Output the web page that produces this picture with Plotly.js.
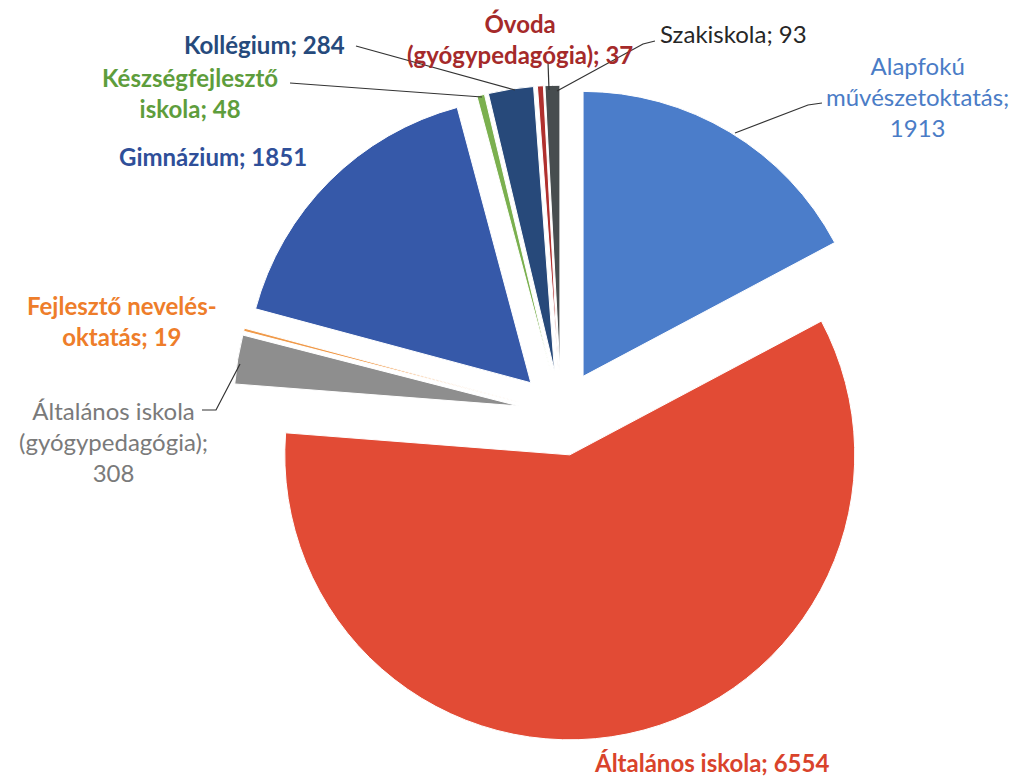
<!DOCTYPE html>
<html>
<head>
<meta charset="utf-8">
<script src="https://cdn.plot.ly/plotly-3.0.1.min.js"></script>
<style>html,body{margin:0;padding:0;background:#fff;}#chart{width:1021px;height:778px;}</style>
</head>
<body>
<div id="chart"></div>
<script>
// Data
const labels = [
  "Alapfokú művészetoktatás",
  "Általános iskola",
  "Általános iskola (gyógypedagógia)",
  "Fejlesztő nevelés-oktatás",
  "Gimnázium",
  "Készségfejlesztő iskola",
  "Kollégium",
  "Óvoda (gyógypedagógia)",
  "Szakiskola"
];
const values = [1913, 6554, 308, 19, 1851, 48, 284, 37, 93];
const sliceColors = ["#4b7dca", "#e24b35", "#8e8e8e", "#f09a4a", "#3659a9", "#7bb04f", "#27497a", "#b0302e", "#474d4f"];
const textColors  = ["#4a7cc6", "#d9432b", "#7a7a7a", "#ee7d2a", "#2f4f99", "#5e9d3c", "#264a7c", "#a52a2a", "#262626"];
// label line breaks (how the reference wraps the text)
const labelLines = [
  ["Alapfokú", "művészetoktatás;", "{v}"],
  ["Általános iskola; {v}"],
  ["Általános iskola", "(gyógypedagógia);", "{v}"],
  ["Fejlesztő nevelés-", "oktatás; {v}"],
  ["Gimnázium; {v}"],
  ["Készségfejlesztő", "iskola; {v}"],
  ["Kollégium; {v}"],
  ["Óvoda", "(gyógypedagógia); {v}"],
  ["Szakiskola; {v}"]
];
const boldLabel = [false, true, false, true, true, true, true, true, false];

// layout helpers (pixel -> paper, margins are zero)
const W = 1021, H = 778;
const px = x => x / W;
const py = y => 1 - y / H;

// label placement (pixel centres) and leader lines (pixel polylines)
const labelPos = [
  [917, 97, "center"], [711, 762, "center"], [113, 441, "center"], [122, 321, "center"],
  [213, 157, "center"], [190, 93, "center"], [264, 44, "center"], [520, 39, "center"], [658, 34, "left"]
];
const leaders = [
  [[822, 103], [808, 105], [735, 133]],
  null,
  [[202, 410], [216, 410], [240, 364]],
  null,
  null,
  [[290, 83], [482, 97]],
  [[356, 46], [515, 90]],
  [[548, 62], [549, 90]],
  [[655, 41], [643, 44], [557, 91]]
];

const annotations = labels.map((l, i) => {
  const txt = labelLines[i].map(s => s.replace("{v}", values[i])).join("<br>");
  return {
    xref: "paper", yref: "paper",
    x: px(labelPos[i][0]), y: py(labelPos[i][1]),
    xanchor: labelPos[i][2], yanchor: "middle",
    text: boldLabel[i] ? "<b>" + txt + "</b>" : txt,
    showarrow: false, align: "center",
    font: {family: "Lato, 'Open Sans', sans-serif", size: 24, color: textColors[i]}
  };
});

const shapes = leaders.filter(Boolean).map(pts => ({
  type: "path", xref: "paper", yref: "paper",
  path: pts.map((p, k) => (k ? "L" : "M") + px(p[0]) + "," + py(p[1])).join(" "),
  line: {color: "#333", width: 1.2}
}));

const trace = {
  type: "pie",
  labels: labels,
  values: values,
  sort: false,
  direction: "clockwise",
  rotation: 0,
  pull: [0.15, 0.15, 0.15, 0.15, 0.15, 0.15, 0.15, 0.15, 0.15],
  marker: {colors: sliceColors, line: {color: "#ffffff", width: 1}},
  textinfo: "none",
  hoverinfo: "label+value",
  domain: {x: [0.2, 0.899], y: [0.0479, 0.8904]}
};

const layout = {
  width: W, height: H,
  margin: {l: 0, r: 0, t: 0, b: 0},
  showlegend: false,
  paper_bgcolor: "#ffffff",
  annotations: annotations,
  shapes: shapes
};

Plotly.newPlot("chart", [trace], layout, {displayModeBar: false, staticPlot: true});
</script>
</body>
</html>
